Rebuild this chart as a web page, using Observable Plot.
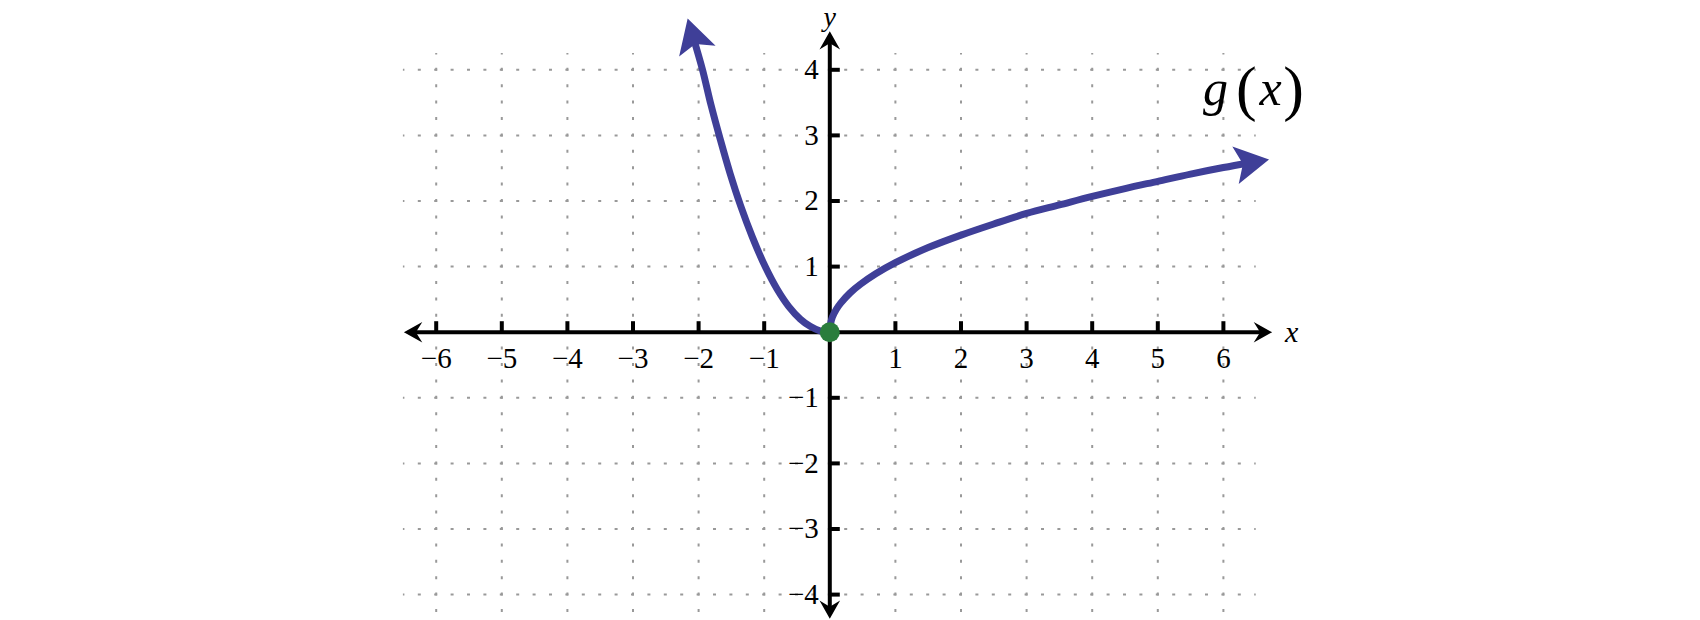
<!DOCTYPE html>
<html>
<head>
<meta charset="utf-8">
<script src="https://cdn.jsdelivr.net/npm/d3@7"></script>
<script src="https://cdn.jsdelivr.net/npm/@observablehq/plot@0.6"></script>
<style>
  html, body { margin: 0; padding: 0; background: #ffffff; }
  #chart svg { display: block; font-family: "Liberation Serif", "Times New Roman", serif; }
</style>
</head>
<body>
<div id="chart"></div>
<script>
// ---- data ----
const xTicks = [-6, -5, -4, -3, -2, -1, 1, 2, 3, 4, 5, 6];
const xTickLabels = ["−6", "−5", "−4", "−3", "−2", "−1", "1", "2", "3", "4", "5", "6"];
const yTicks = [-4, -3, -2, -1, 1, 2, 3, 4];
const yTickLabels = ["−4", "−3", "−2", "−1", "1", "2", "3", "4"];

// g(x): left branch (from the origin up to the arrow) and right branch
const leftX = [0, -0.15, -0.3, -0.45, -0.625, -0.8, -0.985, -1.18, -1.36, -1.52, -1.667, -1.81, -1.94, -2.08];
const leftY = [0, 0.02, 0.09, 0.2, 0.39, 0.65, 1, 1.45, 1.93, 2.42, 2.93, 3.46, 4, 4.49];
const rightX = [0, 0.01, 0.04, 0.1, 0.163, 0.31, 0.467, 0.7, 1, 1.5, 2, 2.5, 3, 3.5, 4, 4.5, 5, 5.5, 6, 6.395];
const rightY = [0, 0.12, 0.23, 0.35, 0.44, 0.6, 0.73, 0.89, 1.06, 1.29, 1.48, 1.65, 1.81, 1.94, 2.07, 2.19, 2.3, 2.41, 2.51, 2.58];

// highlighted point
const pointX = [0];
const pointY = [0];

// axis line ends (arrows)
const axisEndX = [6.59, -6.34, 0, 0];
const axisEndY = [0, 0, 4.436, -4.217];

// grid lines
const gridXs = [-6, -5, -4, -3, -2, -1, 1, 2, 3, 4, 5, 6];
const gridYs = [-4, -3, -2, -1, 1, 2, 3, 4];

// labels
const axisNames = ["x", "y"];
const axisNameX = [7.04, 0];
const axisNameY = [0, 4.80];
const axisNameSize = [30, 28];
const fnLetters = ["g", "x"];
const fnLettersX = [5.88, 6.72];
const fnParens = ["(", ")"];
const fnParensX = [6.35, 7.07];
const fnLabelY = 3.70;

// ---- styling ----
const curveColor = "#3f3f98";
const dotColor = "#2a7d3c";
const gridColor = "#999999";
const serif = "Liberation Serif, Times New Roman, serif";

// px per unit = 65.6 ; origin at (829.3, 331.7)
const xDomain = [-829.3 / 65.6, (1700 - 829.3) / 65.6];
const yDomain = [-(620 - 331.7) / 65.6, 331.7 / 65.6];

function stealth(tip, back, half, notch) {
  return (color, context) => {
    const doc = (context && context.document) || document;
    const ns = "http://www.w3.org/2000/svg";
    const m = doc.createElementNS(ns, "marker");
    m.setAttribute("viewBox", "-50 -50 100 100");
    m.setAttribute("markerWidth", 100);
    m.setAttribute("markerHeight", 100);
    m.setAttribute("refX", 0);
    m.setAttribute("refY", 0);
    m.setAttribute("markerUnits", "userSpaceOnUse");
    m.setAttribute("orient", "auto");
    m.setAttribute("overflow", "visible");
    const p = doc.createElementNS(ns, "path");
    p.setAttribute("d", `M${tip},0L${-back},${-half}L${-notch},0L${-back},${half}Z`);
    p.setAttribute("fill", color);
    p.setAttribute("stroke", "none");
    m.appendChild(p);
    return m;
  };
}
const bigArrow = stealth(20, 14, 19, 6.5);
const axisArrow = stealth(10, 8.4, 10.3, 2);

const chart = Plot.plot({
  width: 1700,
  height: 620,
  margin: 0,
  style: { background: "#ffffff", overflow: "visible", fontFamily: serif },
  x: { domain: xDomain, axis: null },
  y: { domain: yDomain, axis: null },
  marks: [
    // dotted grid
    Plot.ruleX(gridXs, { x: d => d, y1: 4.25, y2: -4.5, stroke: gridColor, strokeWidth: 2,
      strokeDasharray: "3,13.4", strokeDashoffset: 1.5 }),
    Plot.ruleY(gridYs, { y: d => d, x1: -6.5, x2: 6.5, stroke: gridColor, strokeWidth: 2,
      strokeDasharray: "3,13.4", strokeDashoffset: 1.5 }),
    // axes with arrows
    Plot.link(axisEndX, { x1: 0, y1: 0, x2: axisEndX, y2: axisEndY, stroke: "#000", strokeWidth: 4,
      markerEnd: axisArrow }),
    // ticks
    Plot.ruleX(xTicks, { x: d => d, y1: 0, y2: 10.5 / 65.6, stroke: "#000", strokeWidth: 4 }),
    Plot.ruleY(yTicks, { y: d => d, x1: 0, x2: 10.5 / 65.6, stroke: "#000", strokeWidth: 4 }),
    // tick labels
    Plot.text(xTicks, { x: d => d, y: 0, text: (d, i) => xTickLabels[i], dy: 26.6, lineAnchor: "middle",
      fontFamily: serif, fontSize: 29, fill: "#000" }),
    Plot.text(yTicks, { x: 0, y: d => d, text: (d, i) => yTickLabels[i], dx: -11, textAnchor: "end",
      lineAnchor: "middle", fontFamily: serif, fontSize: 29, fill: "#000" }),
    // axis names
    Plot.text(axisNames, { x: axisNameX, y: axisNameY, text: d => d, lineAnchor: "middle",
      fontFamily: serif, fontStyle: "italic", fontSize: (d, i) => axisNameSize[i], fill: "#000" }),
    // curve branches
    Plot.line(leftX, { x: leftX, y: leftY, stroke: curveColor, strokeWidth: 7, curve: "catmull-rom",
      strokeLinejoin: "round", markerEnd: bigArrow }),
    Plot.line(rightX, { x: rightX, y: rightY, stroke: curveColor, strokeWidth: 7, curve: "catmull-rom",
      strokeLinejoin: "round", markerEnd: bigArrow }),
    // point
    Plot.dot(pointX, { x: pointX, y: pointY, r: 10, fill: dotColor, stroke: "none" }),
    // function label g(x)
    Plot.text(fnLetters, { x: fnLettersX, y: fnLettersX.map(() => fnLabelY), text: d => d, lineAnchor: "middle",
      fontFamily: serif, fontStyle: "italic", fontSize: 50, fill: "#000" }),
    Plot.text(fnParens, { x: fnParensX, y: fnParensX.map(() => fnLabelY), text: d => d, lineAnchor: "middle",
      fontFamily: serif, fontSize: 62, fill: "#000" })
  ]
});
document.getElementById("chart").appendChild(chart);
</script>
</body>
</html>
